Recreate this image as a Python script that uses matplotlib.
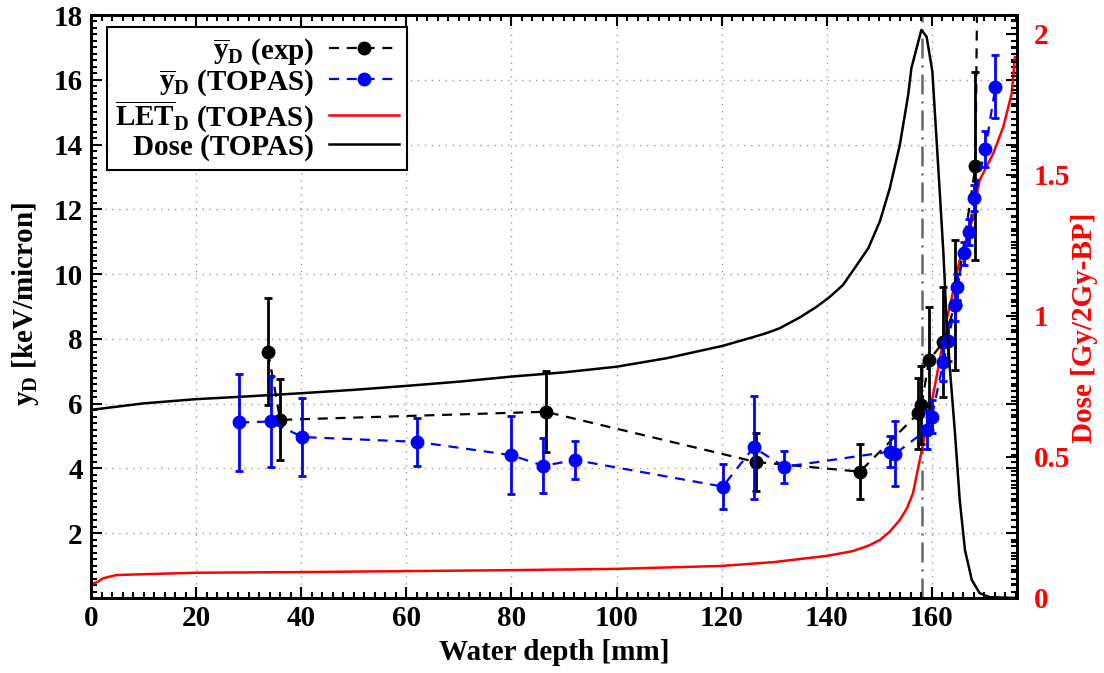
import numpy as np
import matplotlib
matplotlib.use("Agg")
import matplotlib.pyplot as plt
from matplotlib.ticker import MultipleLocator, FixedLocator

plt.rcParams['font.family'] = ['Liberation Serif', 'DejaVu Serif']
plt.rcParams['font.weight'] = 'bold'
plt.rcParams['axes.labelweight'] = 'bold'
plt.rcParams['mathtext.fontset'] = 'custom'
plt.rcParams['mathtext.rm'] = 'Liberation Serif:bold'
plt.rcParams['mathtext.bf'] = 'Liberation Serif:bold'
plt.rcParams['mathtext.it'] = 'Liberation Serif:bold'
plt.rcParams['mathtext.default'] = 'rm'

# measured yD (black)
exp_depth = [33.7, 36.0, 86.5, 126.5, 146.3, 157.4, 158.0, 159.5, 162.2, 164.4, 168.3, 169.0]
exp_yd = [7.6, 5.5, 5.75, 4.2, 3.9, 5.7, 5.95, 7.35, 7.9, 9.05, 13.35, 25.0]
exp_err = [1.65, 1.25, 1.25, 0.9, 0.85, 1.1, 1.2, 1.65, 1.7, 2.0, 2.9, 3.0]

# TOPAS yD (blue)
topas_depth = [28.2, 34.2, 40.2, 62.1, 80.0, 86.1, 92.1, 120.2, 126.1, 131.9, 152.0, 153.0,
               159.0, 160.0, 162.2, 163.1, 164.4, 164.8, 166.1, 167.1, 168.0, 170.2, 172.1]
topas_yd = [5.42, 5.45, 4.97, 4.82, 4.41, 4.08, 4.26, 3.44, 4.65, 4.05, 4.52, 4.45,
            5.19, 5.6, 7.3, 7.92, 9.05, 9.61, 10.64, 11.31, 12.34, 13.86, 15.79]
topas_err = [1.5, 1.4, 1.2, 0.75, 1.2, 0.85, 0.6, 0.7, 1.6, 0.5, 0.47, 1.0,
             0.6, 0.5, 0.6, 0.6, 0.5, 0.4, 0.35, 0.4, 0.4, 0.55, 0.96]

# LET_D (red, left scale)
let_depth = [0.5, 1.3, 2.3, 4.9, 11.2, 20.1, 40, 60, 80, 100, 120, 130, 140, 145, 148,
             150.1, 152, 153.9, 155.2, 156.4, 157.7, 159, 160.3, 161.5, 162.8, 163.7,
             165.3, 167.9, 168.5, 169.1, 171.7, 173.6, 175.2, 175.8]
let_d = [0.45, 0.5, 0.61, 0.71, 0.74, 0.78, 0.80, 0.83, 0.86, 0.90, 0.99, 1.11, 1.30, 1.45, 1.62,
         1.79, 2.05, 2.41, 2.75, 3.23, 4.26, 5.29, 6.32, 7.35, 8.58, 9.2,
         10.44, 11.77, 12.39, 12.9, 13.73, 14.55, 15.58, 16.7]

# dose (black solid, right scale)
dose_depth = [0, 10, 20, 30, 40, 50, 60, 70, 80, 90, 100, 109.5, 120.2, 126, 128.5, 131,
              134.9, 138.1, 140.6, 143.1, 145.7, 147.9, 150.1, 152, 153.9, 155.5, 156.1,
              158.0, 159.0, 160.1, 161.5, 162.2, 162.8, 163.4, 164.4, 165.3, 166.3,
              167.6, 169.1, 171, 176]
dose = [0.667, 0.69, 0.705, 0.715, 0.726, 0.738, 0.752, 0.767, 0.785, 0.80, 0.82, 0.85,
        0.894, 0.925, 0.939, 0.956, 0.995, 1.033, 1.068, 1.11, 1.18, 1.24, 1.335, 1.453,
        1.606, 1.784, 1.878, 2.014, 1.99, 1.866, 1.44, 1.222, 0.986, 0.82, 0.584, 0.348,
        0.17, 0.064, 0.017, 0.003, 0.0]

peak_depth = 158.2

fs = 21
fig = plt.figure(figsize=(11.04, 6.73), dpi=100)
ax = fig.add_axes([91 / 1104, 1 - 598 / 673, (1017 - 91) / 1104, (598 - 15) / 673])
ax2 = ax.twinx()

ax.set_xlim(0, 176.2)
ax.set_ylim(0, 18)
ax2.set_ylim(0, 2.067)

ax.grid(True, which='major', ls=(0, (1, 4)), color='#999999', lw=1)
ax.axvline(peak_depth, color='#666666', lw=1.8, dashes=(8, 2.8, 0.8, 2.8), zorder=1)

ax.plot(let_depth, let_d, color='red', lw=1.8, zorder=2)

ax.errorbar(exp_depth, exp_yd, yerr=exp_err, fmt='none', ecolor='black',
            elinewidth=2, capsize=3, capthick=2, zorder=3)
l_exp, = ax.plot(exp_depth, exp_yd, color='black', marker='o', ms=9, lw=1.6,
                 dashes=(4.5, 3.5), zorder=4)
ax.errorbar(topas_depth, topas_yd, yerr=topas_err, fmt='none', ecolor='blue',
            elinewidth=2, capsize=3, capthick=2, zorder=5)
l_top, = ax.plot(topas_depth, topas_yd, color='blue', marker='o', ms=9, lw=1.6,
                 dashes=(4.5, 3.5), zorder=6)

l_dose, = ax2.plot(dose_depth, dose, color='black', lw=1.8)
l_let = plt.Line2D([], [], color='red', lw=1.8)

# ticks
ax.xaxis.set_major_locator(MultipleLocator(20))
ax.xaxis.set_minor_locator(MultipleLocator(2))
ax.yaxis.set_major_locator(FixedLocator([2, 4, 6, 8, 10, 12, 14, 16, 18]))
ax.yaxis.set_minor_locator(MultipleLocator(0.2))
ax.tick_params(which='both', direction='in', top=True, right=True, labelsize=fs, width=1.5)
ax.tick_params(which='major', length=8)
ax.tick_params(which='minor', length=4)
ax.tick_params(axis='y', pad=6)
ax.tick_params(axis='x', pad=5)

ax2.yaxis.set_major_locator(FixedLocator([0, 0.5, 1, 1.5, 2]))
ax2.yaxis.set_minor_locator(MultipleLocator(0.05))
ax2.set_yticklabels(['0', '0.5', '1', '1.5', '2'])
ax2.tick_params(which='both', direction='in', labelsize=fs, labelcolor='red', width=1.5, pad=12)
ax2.tick_params(which='major', length=8)
ax2.tick_params(which='minor', length=4)

for a in (ax, ax2):
    for s in a.spines.values():
        s.set_linewidth(2)

ax.set_xlabel('Water depth [mm]', fontsize=fs)
ax.xaxis.set_label_coords(0.5, -0.07)
ax.set_ylabel(r'$y_D$ [keV/micron]', fontsize=fs)
ax.yaxis.set_label_coords(-0.054, 0.505)
ax2.set_ylabel('Dose [Gy/2Gy-BP]', fontsize=fs, color='red')
ax2.yaxis.set_label_coords(1.058, 0.463)

leg = ax2.legend([l_exp, l_top, l_let, l_dose],
                 [r'$\overline{y}_D$ (exp)', r'$\overline{y}_D$ (TOPAS)',
                  r'$\overline{LET}_D$ (TOPAS)', 'Dose (TOPAS)'],
                 loc='upper left', bbox_to_anchor=(0.017, 0.979), borderaxespad=0,
                 markerfirst=False, fontsize=fs, handlelength=2.4, handletextpad=0.5,
                 labelspacing=0.0, fancybox=False, framealpha=1, edgecolor='black',
                 borderpad=0.3)
leg.get_frame().set_linewidth(1.5)

fig.savefig('out.png', dpi=100)
